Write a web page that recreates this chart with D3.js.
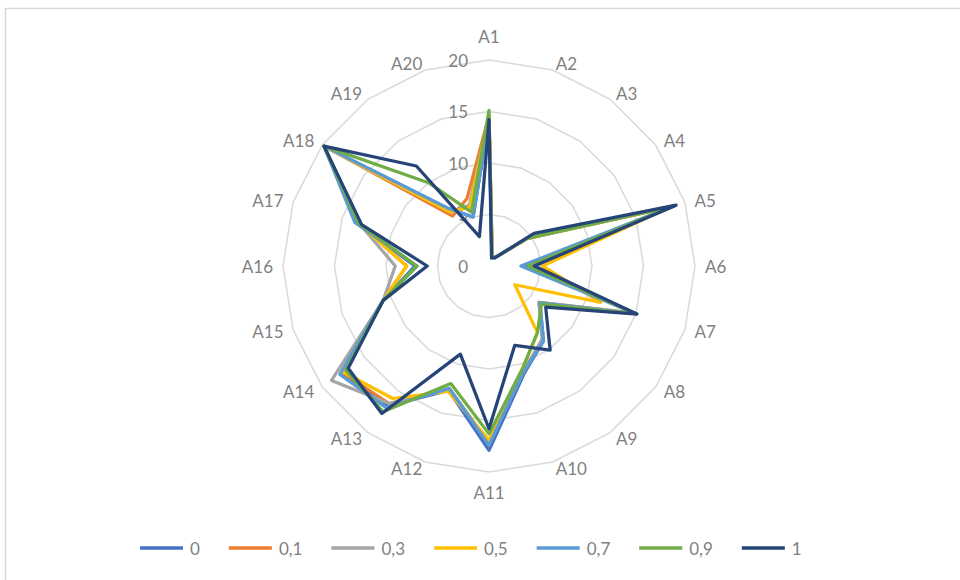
<!DOCTYPE html>
<html>
<head>
<meta charset="utf-8">
<script src="https://cdn.jsdelivr.net/npm/d3@7"></script>
<style>
  html, body { margin: 0; padding: 0; background: #ffffff; }
  svg { display: block; }
  text { font-family: Lato, "Open Sans", sans-serif; fill: #7f7f7f; }
</style>
</head>
<body>
<svg id="chart" width="960" height="580"></svg>
<script>
// Axis categories, clockwise from the top
const categories = ["A1","A2","A3","A4","A5","A6","A7","A8","A9","A10",
                    "A11","A12","A13","A14","A15","A16","A17","A18","A19","A20"];

// Radial tick values
const ticks = [0, 5, 10, 15, 20];

// Series names (legend labels)
const seriesNames = ["0", "0,1", "0,3", "0,5", "0,7", "0,9", "1"];
const seriesColors = ["#4472C4", "#ED7D31", "#A5A5A5", "#FFC000", "#5B9BD5", "#70AD47", "#264478"];

// Values per series, A1..A20
const s0  = [14.3, 1.0, 1.0, 4.5, 18.8, 3.5, 15.0, 6.1, 9.0, 11.0, 17.9, 12.7, 16.8, 17.8, 10.8, 7.2, 13.5, 19.8, 7.0, 5.0];
const s01 = [14.6, 1.0, 1.0, 4.5, 18.7, 4.0, 14.8, 6.0, 8.8, 10.8, 17.2, 12.5, 16.5, 17.6, 10.8, 8.0, 13.2, 19.8, 6.0, 6.9];
const s03 = [14.5, 1.0, 1.0, 4.5, 18.7, 4.0, 14.8, 6.0, 8.8, 10.8, 17.2, 12.5, 16.5, 18.9, 10.8, 9.1, 13.2, 19.8, 6.5, 6.2];
const s05 = [14.5, 1.0, 1.0, 4.5, 18.5, 5.2, 11.4, 3.1, 8.0, 10.5, 16.9, 12.8, 15.9, 17.5, 10.8, 8.0, 13.3, 19.8, 6.5, 6.0];
const s07 = [14.2, 0.9, 1.0, 4.6, 18.9, 3.1, 15.0, 6.1, 9.0, 10.8, 17.4, 12.5, 17.0, 17.9, 10.8, 7.0, 13.7, 19.8, 7.0, 5.0];
const s09 = [15.1, 0.9, 1.0, 4.6, 18.9, 3.8, 15.0, 6.3, 8.0, 10.5, 16.3, 12.0, 17.5, 17.2, 10.8, 7.0, 13.3, 19.8, 10.0, 5.5];
const s1  = [14.2, 0.8, 1.0, 5.4, 19.1, 4.4, 15.1, 6.8, 10.1, 8.1, 15.8, 9.0, 17.7, 16.9, 10.8, 6.0, 13.0, 19.8, 12.0, 3.0];

const seriesValues = [s0, s01, s03, s05, s07, s09, s1];

const svg = d3.select("#chart");
const W = 960, H = 580;
const cx = 489, cy = 266, R = 206;
const fontSize = 17;

// Chart frame
svg.append("rect")
  .attr("x", 5.5).attr("y", 8.5)
  .attr("width", W).attr("height", H)
  .attr("fill", "#ffffff")
  .attr("stroke", "#d9d9d9")
  .attr("stroke-width", 1.5);

const r = d3.scaleLinear().domain([0, 20]).range([0, R]);
const angle = d3.scalePoint().domain(categories).range([0, 2 * Math.PI * (1 - 1 / categories.length)]);

const g = svg.append("g").attr("transform", `translate(${cx},${cy})`);

// Grid rings (polygons)
const ringLine = d3.lineRadial()
  .angle(d => angle(d))
  .curve(d3.curveLinearClosed);

g.append("g").attr("class", "grid")
  .selectAll("path")
  .data(ticks.filter(t => t > 0))
  .join("path")
  .attr("d", t => ringLine.radius(() => r(t))(categories))
  .attr("fill", "none")
  .attr("stroke", "#d9d9d9")
  .attr("stroke-width", 1.5);

// Radial tick labels, left of the vertical axis
g.append("g").attr("class", "ticks")
  .selectAll("text")
  .data(ticks)
  .join("text")
  .attr("x", -21)
  .attr("y", t => -r(t))
  .attr("text-anchor", "end")
  .attr("dominant-baseline", "central")
  .attr("font-size", fontSize)
  .text(t => t);

// Category labels beside each outer vertex; top and bottom ones sit above/below
g.append("g").attr("class", "cats")
  .selectAll("text")
  .data(categories)
  .join("text")
  .each(function(c) {
    const a = angle(c);
    const s = Math.sin(a), co = Math.cos(a);
    const vx = R * s, vy = -R * co;
    let x, y, anchor;
    if (Math.abs(s) < 0.05) {
      anchor = "middle";
      x = vx;
      y = co > 0 ? vy - 24 : vy + 20;
    } else {
      anchor = s > 0 ? "start" : "end";
      x = vx + 10 * s;
      y = vy - 7 * co;
    }
    d3.select(this)
      .attr("x", x)
      .attr("y", y)
      .attr("text-anchor", anchor)
      .attr("dominant-baseline", "central")
      .attr("font-size", fontSize)
      .text(c);
  });

// Series lines
const seriesLine = d3.lineRadial()
  .angle((d, i) => angle(categories[i]))
  .radius(d => r(d))
  .curve(d3.curveLinearClosed);

g.append("g").attr("class", "series")
  .selectAll("path")
  .data(seriesValues)
  .join("path")
  .attr("d", d => seriesLine(d))
  .attr("fill", "none")
  .attr("stroke", (d, i) => seriesColors[i])
  .attr("stroke-width", 3.25)
  .attr("stroke-linejoin", "round");

// Legend
const legend = svg.append("g").attr("class", "legend");
let lx = 140;
const ly = 548;
seriesNames.forEach((name, i) => {
  legend.append("line")
    .attr("x1", lx).attr("x2", lx + 43)
    .attr("y1", ly).attr("y2", ly)
    .attr("stroke", seriesColors[i])
    .attr("stroke-width", 3.5);
  const t = legend.append("text")
    .attr("x", lx + 50)
    .attr("y", ly)
    .attr("dominant-baseline", "central")
    .attr("font-size", fontSize)
    .text(name);
  lx += 43 + 7 + t.node().getComputedTextLength() + 29;
});
</script>
</body>
</html>
